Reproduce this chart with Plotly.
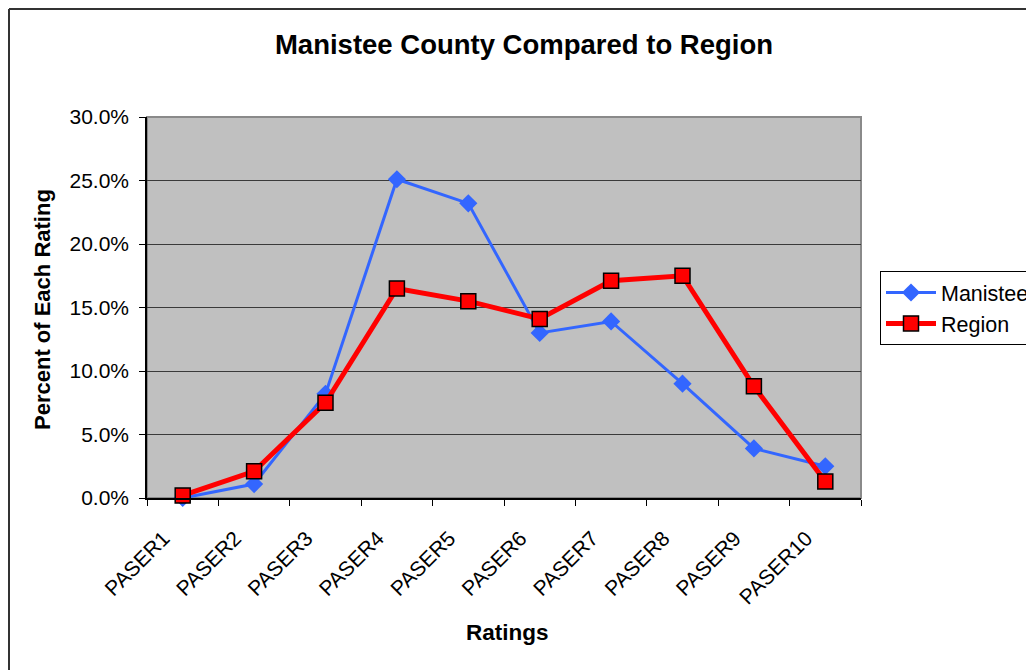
import plotly.graph_objects as go

categories = ["PASER1", "PASER2", "PASER3", "PASER4", "PASER5",
              "PASER6", "PASER7", "PASER8", "PASER9", "PASER10"]
manistee = [0.000, 0.011, 0.082, 0.251, 0.232, 0.130, 0.139, 0.090, 0.039, 0.025]
region = [0.002, 0.021, 0.075, 0.165, 0.155, 0.141, 0.171, 0.175, 0.088, 0.013]
y_ticks = [0.0, 0.05, 0.10, 0.15, 0.20, 0.25, 0.30]

FONT = "Liberation Sans, Arial, sans-serif"
W, H = 1034, 670
OFF = 8  # page body margin
# plot area on screen: x 147..861, y 117..498
L, T = 147 - OFF, 117 - OFF
R, B = W - (861 - OFF), H - (498 - OFF)
PW, PH = 714, 381

def px_x(x):
    return (x - 147) / PW

def px_y(y):
    return (498 - y) / PH

fig = go.Figure()
fig.add_trace(go.Scatter(
    x=categories, y=manistee, name="Manistee", mode="lines+markers",
    line=dict(color="#3366FF", width=3),
    marker=dict(symbol="diamond", size=14, color="#3366FF"),
    cliponaxis=False, legendgroup="a",
))
fig.add_trace(go.Scatter(
    x=categories, y=region, name="Region", mode="lines+markers",
    line=dict(color="#FF0000", width=5),
    marker=dict(symbol="square", size=15, color="#FF0000",
                line=dict(color="#000000", width=1.5)),
    cliponaxis=False, legendgroup="b",
))

fig.update_layout(
    width=W, height=H,
    margin=dict(l=L, r=R, t=T, b=B, autoexpand=False),
    paper_bgcolor="white", plot_bgcolor="#C0C0C0",
    font=dict(family=FONT, size=21, color="black"),
    title=dict(text="<b>Manistee County Compared to Region</b>",
               x=(524 - OFF) / W, xref="container", xanchor="center",
               y=1 - (44 - OFF) / H, yref="container", yanchor="middle",
               font=dict(size=27.5, family=FONT)),
    showlegend=True,
    legend=dict(x=px_x(880), y=px_y(271), xanchor="left", yanchor="top",
                bordercolor="black", borderwidth=1, bgcolor="white",
                font=dict(size=21.5, family=FONT), itemwidth=50,
                traceorder="grouped", tracegroupgap=0),
    xaxis=dict(
        type="category", categoryorder="array", categoryarray=categories,
        range=[-0.5, 9.5], showgrid=False, zeroline=False,
        showline=True, linecolor="black", linewidth=1.5,
        ticks="outside", ticklen=6, tickcolor="black", tickson="boundaries",
        tickangle=-45, tickfont=dict(size=21, family=FONT),
        ticklabelstandoff=18, ticklabelshift=-19,
    ),
    yaxis=dict(
        range=[0, 0.30], tickvals=y_ticks, tickformat=".1%",
        showgrid=True, gridcolor="#3a3a3a", gridwidth=1, zeroline=False,
        showline=True, linecolor="black", linewidth=1.5,
        ticks="outside", ticklen=6, tickcolor="black",
        tickfont=dict(size=21, family=FONT), ticklabelstandoff=6,
    ),
    annotations=[
        dict(text="<b>Percent of Each Rating</b>", x=px_x(42), y=px_y(310),
             xref="paper", yref="paper", showarrow=False, textangle=-90,
             xanchor="center", yanchor="middle", font=dict(size=22, family=FONT)),
        dict(text="<b>Ratings</b>", x=px_x(507), y=px_y(632),
             xref="paper", yref="paper", showarrow=False,
             xanchor="center", yanchor="middle", font=dict(size=22.5, family=FONT)),
    ],
    shapes=[
        dict(type="rect", xref="paper", yref="paper", x0=0, x1=1, y0=0, y1=1,
             line=dict(color="#8a8a8a", width=2), layer="below"),
        # outer chart frame (left and top edges)
        dict(type="line", xref="paper", yref="paper", x0=px_x(9), x1=px_x(9),
             y0=px_y(9), y1=px_y(700), line=dict(color="#333333", width=2)),
        dict(type="line", xref="paper", yref="paper", x0=px_x(9), x1=px_x(1100),
             y0=px_y(9), y1=px_y(9), line=dict(color="#333333", width=2)),
    ],
)

fig.write_html("out.html")
